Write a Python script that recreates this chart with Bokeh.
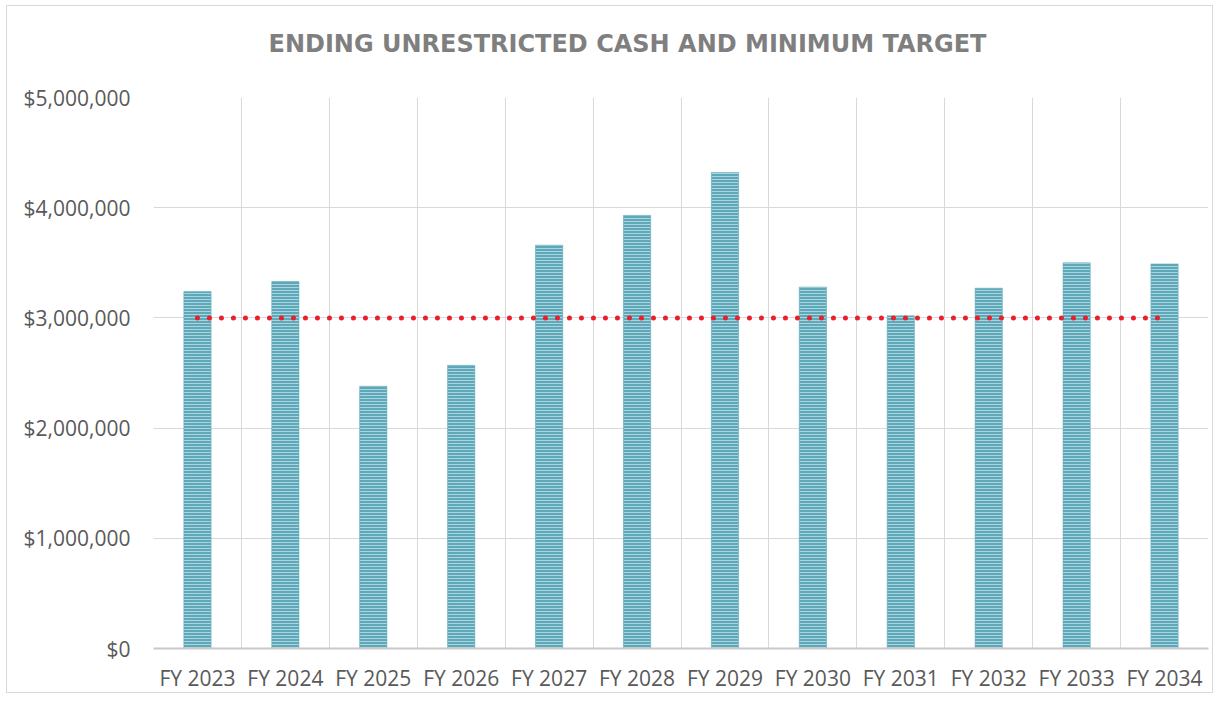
from bokeh.plotting import figure
from bokeh.models import ColumnDataSource, NumeralTickFormatter, FixedTicker, Range1d, Grid, Title
from bokeh.embed import file_html
from bokeh.resources import INLINE

categories = ["FY 2023", "FY 2024", "FY 2025", "FY 2026", "FY 2027", "FY 2028",
              "FY 2029", "FY 2030", "FY 2031", "FY 2032", "FY 2033", "FY 2034"]
ending_cash = [3240000, 3330000, 2380000, 2570000, 3660000, 3930000,
               4320000, 3280000, 3020000, 3270000, 3500000, 3490000]
minimum_target = [3000000] * 12
y_ticks = [0, 1000000, 2000000, 3000000, 4000000, 5000000]
title_text = "ENDING UNRESTRICTED CASH AND MINIMUM TARGET"

pos = list(range(len(categories)))
src = ColumnDataSource(dict(x=pos, cat=categories, cash=ending_cash, target=minimum_target))

p = figure(width=1207, height=688, output_backend="svg", toolbar_location=None,
           x_range=Range1d(-0.5, len(categories) - 0.5), y_range=Range1d(0, 5000000),
           min_border_left=146, min_border_right=6, min_border_top=91, min_border_bottom=43)
p.styles = {"border": "1px solid #d9d9d9", "margin-left": "6px", "margin-top": "5px"}
p.outline_line_color = None
p.background_fill_color = "white"
p.border_fill_color = "white"

# spacer panel between the frame and the title
spacer = Title(text=" ", text_font_size="10px", standoff=22)
p.add_layout(spacer, "above")
t = Title(text=title_text, align="left", offset=115,
          text_font="DejaVu Sans", text_font_size="24px", text_font_style="bold",
          text_color="#7f7f7f", standoff=10)
p.add_layout(t, "above")

p.vbar(x="x", top="cash", width=0.31, source=src, fill_color="#5ea9b9",
       line_color="#5ea9b9", line_width=0.5,
       hatch_pattern="horizontal_line", hatch_color="#acd5df", hatch_scale=3, hatch_weight=1)
p.line(x="x", y="target", source=src, line_color="#e8202a", line_width=5,
       line_dash="0 12", line_cap="round")

# axes
p.yaxis.ticker = FixedTicker(ticks=y_ticks)
p.yaxis.formatter = NumeralTickFormatter(format="$0,0")
p.yaxis.axis_line_color = None
p.yaxis.major_tick_line_color = None
p.yaxis.minor_tick_line_color = None
p.yaxis.major_label_standoff = 17
p.yaxis.major_label_text_font = "Open Sans"
p.yaxis.major_label_text_font_size = "21px"
p.yaxis.major_label_text_color = "#595959"

p.xaxis.ticker = FixedTicker(ticks=pos)
p.xaxis.major_label_overrides = {i: c for i, c in zip(pos, categories)}
p.xaxis.axis_line_color = "#c8c8c8"
p.xaxis.axis_line_width = 2
p.xaxis.major_tick_line_color = None
p.xaxis.minor_tick_line_color = None
p.xaxis.major_label_standoff = 9
p.xaxis.major_label_text_font = "Open Sans"
p.xaxis.major_label_text_font_size = "21px"
p.xaxis.major_label_text_color = "#595959"

p.ygrid.grid_line_color = "#d9d9d9"
p.xgrid.grid_line_color = None

boundaries = [i + 0.5 for i in pos[:-1]] + [-0.5, len(categories) - 0.5]
vg = Grid(dimension=0, ticker=FixedTicker(ticks=boundaries), grid_line_color="#d9d9d9")
p.add_layout(vg, "center")

open("out.html", "w").write(file_html(p, INLINE))
